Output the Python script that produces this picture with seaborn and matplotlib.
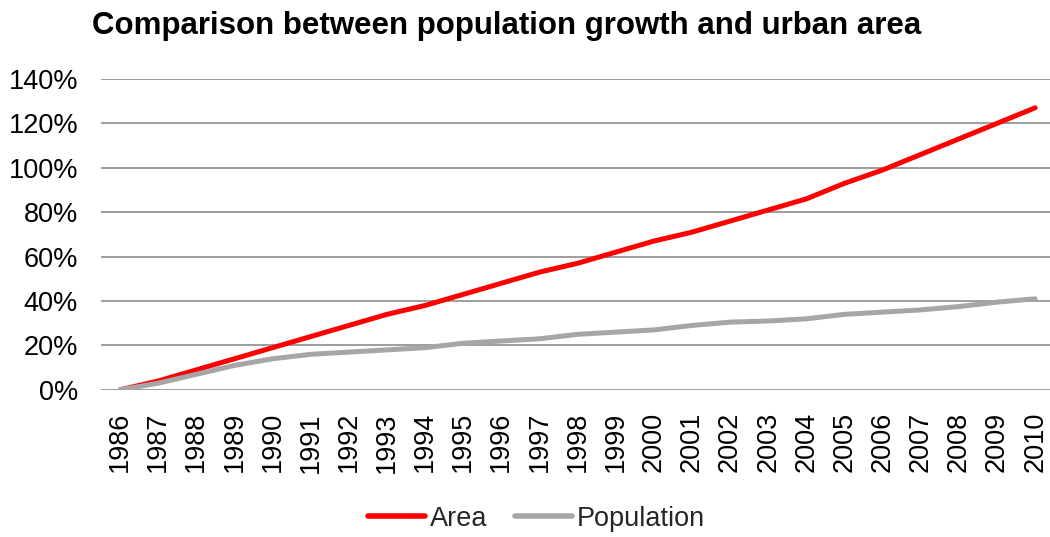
import matplotlib
matplotlib.use("Agg")
import matplotlib.pyplot as plt
import seaborn as sns
import pandas as pd
from matplotlib.ticker import FuncFormatter
from matplotlib.lines import Line2D

years = list(range(1986, 2011))
area = [0, 4, 9, 14, 19, 24, 29, 34, 38, 43, 48, 53, 57, 62, 67, 71, 76, 81, 86, 93,
        99, 106, 113, 120, 127]
population = [0, 3, 7, 11, 14, 16, 17, 18, 19, 21, 22, 23, 25, 26, 27, 29, 30.5, 31, 32, 34,
              35, 36, 37.5, 39.5, 41]
series_names = ["Area", "Population"]
colors = {"Area": "#FF0000", "Population": "#A6A6A6"}
yticks = [0, 20, 40, 60, 80, 100, 120, 140]

df = pd.concat([
    pd.DataFrame({"Year": years, "Value": area, "Series": "Area"}),
    pd.DataFrame({"Year": years, "Value": population, "Series": "Population"}),
])

sns.set_theme(style="white")
plt.rcParams["font.family"] = ["Liberation Sans", "DejaVu Sans"]

fig = plt.figure(figsize=(10.5, 5.37), dpi=100)
ax = fig.add_axes([0.0962, 0.274, 0.9078, 0.579])

sns.lineplot(data=df, x="Year", y="Value", hue="Series", hue_order=series_names,
             palette=colors, linewidth=3.6, ax=ax, legend=False, zorder=3)

ax.set_xlim(1985.5, 2010.5)
ax.set_ylim(0, 140)
ax.set_yticks(yticks)
ax.yaxis.set_major_formatter(FuncFormatter(lambda v, p: f"{int(v)}%"))
ax.set_xticks(years)
ax.set_xticklabels([str(y) for y in years], rotation=90, fontsize=19.5, color="black")
ax.tick_params(axis="y", labelsize=19.5, labelcolor="black", length=0, pad=16.5)
ax.tick_params(axis="x", length=0, pad=16)
ax.yaxis.grid(True, color="#8C8C8C", linewidth=1.2)
ax.xaxis.grid(False)
for s in ["top", "right", "left", "bottom"]:
    ax.spines[s].set_visible(False)
ax.set_xlabel("")
ax.set_ylabel("")

fig.text(0.088, 0.951, "Comparison between population growth and urban area",
         fontsize=22.5, fontweight="bold", ha="left", va="center", color="black")

handles = [Line2D([0], [0], color=colors[n], linewidth=4) for n in series_names]
fig.legend(handles, series_names, loc="center", bbox_to_anchor=(0.511, 0.034), ncol=2,
           frameon=False, fontsize=19.5, handlelength=2.1, handletextpad=0.2,
           columnspacing=1.0, borderpad=0.1)

fig.savefig("out.png", dpi=100)
